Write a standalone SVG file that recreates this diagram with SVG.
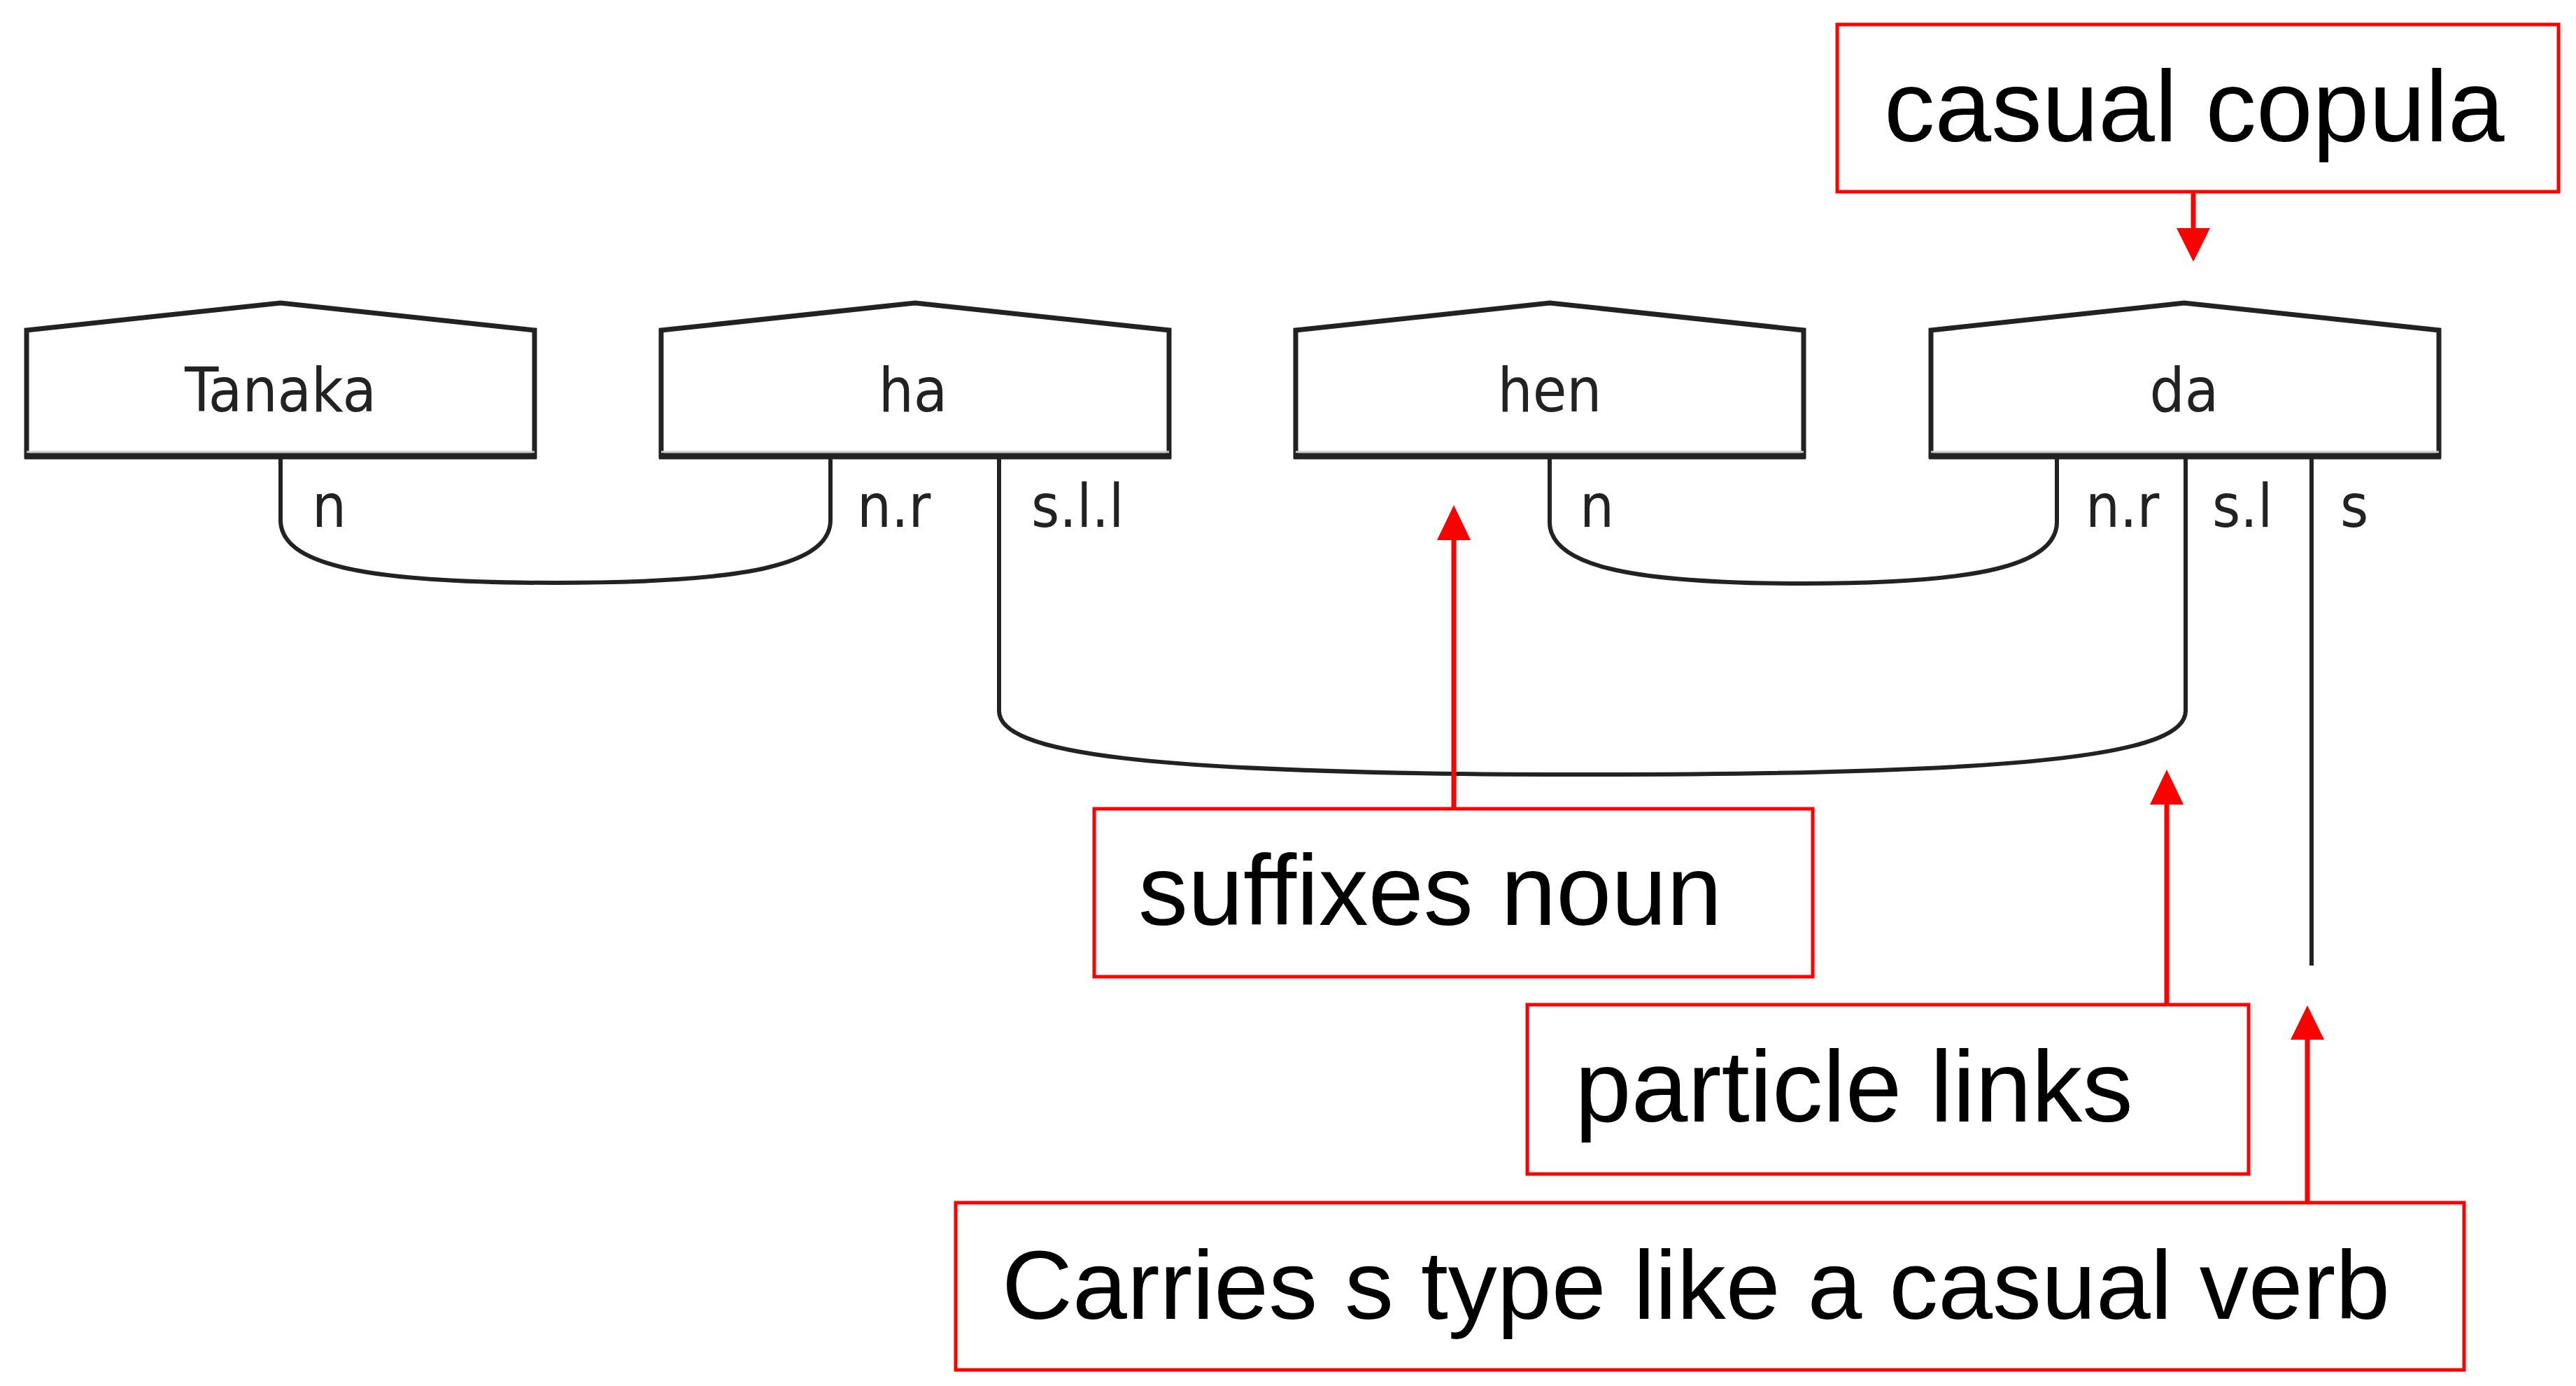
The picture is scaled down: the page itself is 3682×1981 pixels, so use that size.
<svg xmlns="http://www.w3.org/2000/svg" width="3682" height="1981" viewBox="0 0 3682 1981">
<style>
.bg{fill:#ffffff}
.node{fill:#ffffff;stroke:#222222;stroke-width:7;stroke-linejoin:miter}
.base{fill:none;stroke:#222222;stroke-width:9}
.baseh{fill:none;stroke:#cccccc;stroke-width:3}
.word{font-family:"DejaVu Sans Condensed","DejaVu Sans",sans-serif;font-stretch:condensed;font-size:88px;fill:#222222;text-anchor:middle}
.lab{font-family:"DejaVu Sans Condensed","DejaVu Sans",sans-serif;font-stretch:condensed;font-size:86px;fill:#222222}
.link{fill:none;stroke:#222222;stroke-width:6}
.note{fill:#ffffff;stroke:#ff0000;stroke-width:5}
.ntext{font-family:"Liberation Sans",Arial,sans-serif;fill:#000000}
.arr{fill:none;stroke:#ff0000;stroke-width:7}
.head{fill:#ff0000}
</style>
<rect class="bg" x="0" y="0" width="3682" height="1981"/>

<g id="connectors">
<path class="link" d="M401,655 V743 C401,805 510,833 794,833 C1078,833 1187,805 1187,743 V655"/>
<path class="link" d="M1428,655 V1016 C1428,1075 1620,1107 2276,1107 C2932,1107 3124,1075 3124,1016 V655"/>
<path class="link" d="M2215,655 V746 C2215,806 2320,834 2578,834 C2836,834 2940,806 2940,746 V655"/>
<path class="link" d="M3304,655 V1380"/>
<line class="arr" x1="3135" y1="274" x2="3135" y2="330"/>
<polygon class="head" points="3111,326 3159,326 3135,374"/>
<line class="arr" x1="2078" y1="1156" x2="2078" y2="768"/>
<polygon class="head" points="2054,772 2102,772 2078,722"/>
<line class="arr" x1="3097" y1="1436" x2="3097" y2="1146"/>
<polygon class="head" points="3073,1150 3121,1150 3097,1100"/>
<line class="arr" x1="3298" y1="1719" x2="3298" y2="1482"/>
<polygon class="head" points="3274,1486 3322,1486 3298,1437"/>
</g>

<g id="node-tanaka">
<path class="node" d="M38,472 L401,433 L764,472 V652 H38 Z"/>
<line class="baseh" x1="38" y1="646" x2="764" y2="646"/>
<line class="base" x1="35" y1="652" x2="767" y2="652"/>
<text class="word" x="401" y="588">Tanaka</text>
<text class="lab" x="446" y="753">n</text>
</g>

<g id="node-ha">
<path class="node" d="M945,472 L1308,433 L1671,472 V652 H945 Z"/>
<line class="baseh" x1="945" y1="646" x2="1671" y2="646"/>
<line class="base" x1="942" y1="652" x2="1674" y2="652"/>
<text class="word" x="1305" y="588">ha</text>
<text class="lab" x="1225" y="753">n.r</text>
<text class="lab" x="1474" y="753">s.l.l</text>
</g>

<g id="node-hen">
<path class="node" d="M1852,472 L2215,433 L2578,472 V652 H1852 Z"/>
<line class="baseh" x1="1852" y1="646" x2="2578" y2="646"/>
<line class="base" x1="1849" y1="652" x2="2581" y2="652"/>
<text class="word" x="2215" y="588">hen</text>
<text class="lab" x="2258" y="753">n</text>
</g>

<g id="node-da">
<path class="node" d="M2760,472 L3122,433 L3486,472 V652 H2760 Z"/>
<line class="baseh" x1="2760" y1="646" x2="3486" y2="646"/>
<line class="base" x1="2757" y1="652" x2="3489" y2="652"/>
<text class="word" x="3122" y="588">da</text>
<text class="lab" x="2981" y="753">n.r</text>
<text class="lab" x="3162" y="753">s.l</text>
<text class="lab" x="3345" y="753">s</text>
</g>

<g id="note-copula">
<rect class="note" x="2626" y="35" width="1031" height="239"/>
<text class="ntext" x="2693" y="202" font-size="145">casual copula</text>
</g>

<g id="note-suffixes">
<rect class="note" x="1564" y="1156" width="1027" height="240"/>
<text class="ntext" x="1627" y="1322" font-size="142">suffixes noun</text>
</g>

<g id="note-particle">
<rect class="note" x="2183" y="1436" width="1031" height="242"/>
<text class="ntext" x="2251" y="1603" font-size="145">particle links</text>
</g>

<g id="note-carries">
<rect class="note" x="1366" y="1719" width="2156" height="239"/>
<text class="ntext" x="1432" y="1885" font-size="140">Carries s type like a casual verb</text>
</g>
</svg>
